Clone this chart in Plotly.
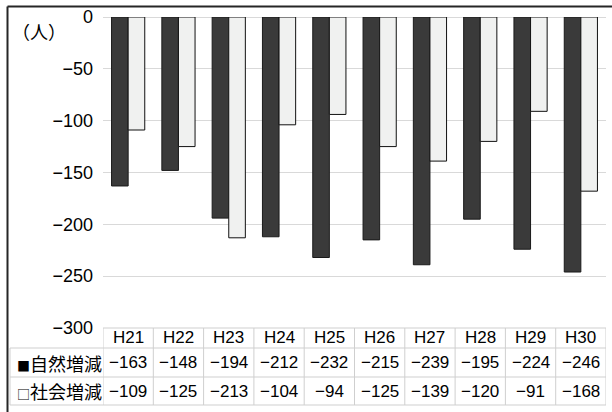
import plotly.graph_objects as go

# ---- data ----
categories = ["H21", "H22", "H23", "H24", "H25", "H26", "H27", "H28", "H29", "H30"]
natural_change = [-163, -148, -194, -212, -232, -215, -239, -195, -224, -246]
social_change = [-109, -125, -213, -104, -94, -125, -139, -120, -91, -168]
series_names = ["自然増減", "社会増減"]
y_ticks = [0, -50, -100, -150, -200, -250, -300]
unit_label = "（人）"

# ---- layout geometry (pixels) ----
W, H = 612, 412
ML, MR, MT, MB = 103, 6, 17, 84
PW = W - ML - MR
PH = H - MT - MB


def px_x(x):
    return (x - ML) / PW


def px_y(y):
    return (H - MB - y) / PH


NUM_FONT = "Liberation Sans, Arial, Noto Sans CJK JP, sans-serif"
CJK_FONT = "Noto Sans CJK JP, sans-serif"
GRID = "#d9d9d9"
TABLE_LINE = "#cfcfcf"

fig = go.Figure()
fig.add_trace(go.Bar(
    x=categories, y=natural_change, name=series_names[0],
    marker=dict(color="#3a3a3a", line=dict(color="#1a1a1a", width=1)),
))
fig.add_trace(go.Bar(
    x=categories, y=social_change, name=series_names[1],
    marker=dict(color="#f0f1f0", line=dict(color="#111111", width=1)),
))

fig.update_layout(
    width=W, height=H,
    margin=dict(l=ML, r=MR, t=MT, b=MB, pad=0),
    paper_bgcolor="white", plot_bgcolor="white",
    barmode="group", bargap=0.34, bargroupgap=0,
    showlegend=False,
    font=dict(family=NUM_FONT, color="black"),
)
fig.update_xaxes(showticklabels=False, showgrid=False, zeroline=False,
                 showline=False, ticks="", range=[-0.5, len(categories) - 0.5])
fig.update_yaxes(range=[-300, 0], tickvals=y_ticks, showgrid=True,
                 gridcolor=GRID, gridwidth=1, zeroline=True,
                 zerolinecolor=GRID, zerolinewidth=1, showline=False,
                 ticks="", ticklabelstandoff=9,
                 tickfont=dict(size=18, family=NUM_FONT, color="black"))

shapes = []
annotations = []

# table geometry
y_top, y_r1, y_r2, y_bot = 328, 348, 377, 405
x_tab_left = 10
x_plot_right = W - MR

# horizontal lines
shapes.append(dict(type="line", xref="paper", yref="paper",
                   x0=0, x1=px_x(x_plot_right), y0=px_y(y_top), y1=px_y(y_top),
                   line=dict(color=TABLE_LINE, width=1)))
for yy in (y_r1, y_r2, y_bot):
    shapes.append(dict(type="line", xref="paper", yref="paper",
                       x0=px_x(x_tab_left), x1=px_x(x_plot_right),
                       y0=px_y(yy), y1=px_y(yy),
                       line=dict(color=TABLE_LINE, width=1)))
# vertical lines at category boundaries
for i in range(len(categories) + 1):
    shapes.append(dict(type="line", xref="x", yref="paper",
                       x0=i - 0.5, x1=i - 0.5, y0=px_y(y_top), y1=px_y(y_bot),
                       line=dict(color=TABLE_LINE, width=1)))
shapes.append(dict(type="line", xref="paper", yref="paper",
                   x0=px_x(x_tab_left), x1=px_x(x_tab_left),
                   y0=px_y(y_r1), y1=px_y(y_bot),
                   line=dict(color=TABLE_LINE, width=1)))

# outer frame (cropped at right and bottom in reference)
shapes.append(dict(type="line", xref="paper", yref="paper",
                   x0=px_x(7.5), x1=px_x(W + 5), y0=px_y(6.5), y1=px_y(6.5),
                   line=dict(color="#262626", width=2)))
shapes.append(dict(type="line", xref="paper", yref="paper",
                   x0=px_x(7.5), x1=px_x(7.5), y0=px_y(6.5), y1=px_y(H + 5),
                   line=dict(color="#262626", width=2)))


def fmt(v):
    return ("\u2212" + str(-v)) if v < 0 else str(v)


for i, c in enumerate(categories):
    annotations.append(dict(x=c, y=px_y((y_top + y_r1) / 2), xref="x", yref="paper",
                            text=c, showarrow=False, yanchor="middle",
                            font=dict(size=17, family=NUM_FONT, color="black")))
    annotations.append(dict(x=c, y=px_y((y_r1 + y_r2) / 2), xref="x", yref="paper",
                            text=fmt(natural_change[i]), showarrow=False, yanchor="middle",
                            font=dict(size=17, family=NUM_FONT, color="black")))
    annotations.append(dict(x=c, y=px_y((y_r2 + y_bot) / 2), xref="x", yref="paper",
                            text=fmt(social_change[i]), showarrow=False, yanchor="middle",
                            font=dict(size=17, family=NUM_FONT, color="black")))

markers = ["■", "□"]
for k, (mk, name) in enumerate(zip(markers, series_names)):
    yy = (y_r1 + y_r2) / 2 if k == 0 else (y_r2 + y_bot) / 2
    annotations.append(dict(x=px_x(15), y=px_y(yy), xref="paper", yref="paper",
                            xanchor="left", yanchor="middle", showarrow=False,
                            text=f"<span style='font-size:13px'>{mk}</span>{name}",
                            font=dict(size=18, family=CJK_FONT, color="black")))

annotations.append(dict(x=px_x(10), y=px_y(31), xref="paper", yref="paper",
                        xanchor="left", yanchor="middle", showarrow=False,
                        text=unit_label,
                        font=dict(size=18, family=CJK_FONT, color="black")))

fig.update_layout(shapes=shapes, annotations=annotations)
fig.write_html("out.html", config={"displayModeBar": False},
               post_script="document.body.style.margin='0';document.body.style.padding='0';")
